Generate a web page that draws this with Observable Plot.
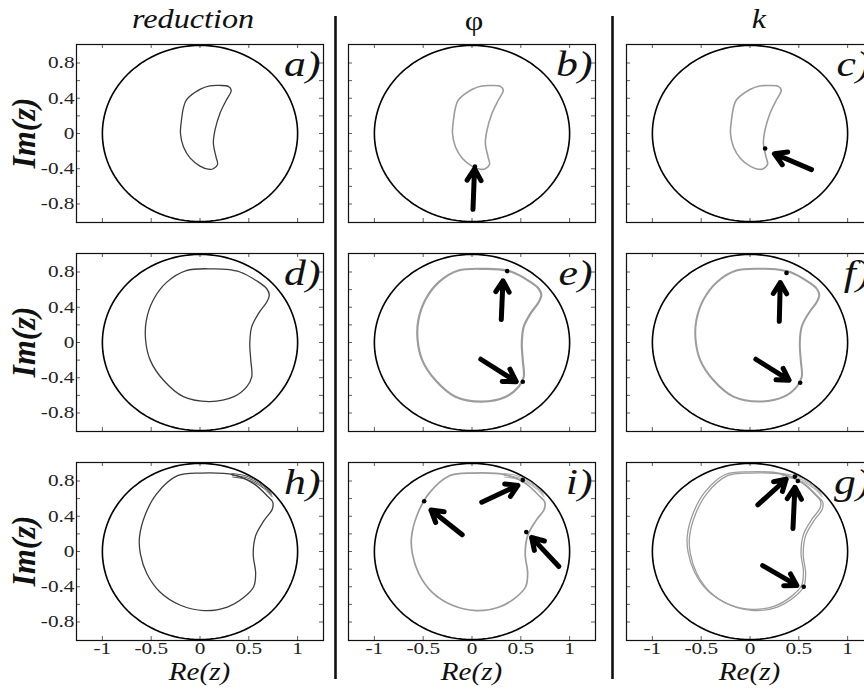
<!DOCTYPE html>
<html><head><meta charset="utf-8">
<script src="https://cdn.jsdelivr.net/npm/d3@7"></script>
<script src="https://cdn.jsdelivr.net/npm/@observablehq/plot@0.6"></script>
<style>
html,body{margin:0;padding:0;background:#fff;overflow:hidden;}
#root{position:relative;width:864px;height:691px;overflow:hidden;background:#fff;}
#root svg{position:absolute;}
</style></head><body><div id="root"></div>
<script>
// ---------- text ----------
const columnTitles = ["reduction", "φ", "k"];
const panelLabels = [["a)", "b)", "c)"], ["d)", "e)", "f)"], ["h)", "i)", "g)"]];
const xAxisTitle = "Re(z)";
const yAxisTitle = "Im(z)";

// ---------- ticks ----------
const xTickValues = [-1, -0.5, 0, 0.5, 1];
const xTickLabels = ["-1", "-0.5", "0", "0.5", "1"];
const yTickValues = [-0.8, -0.6, -0.4, -0.2, 0, 0.2, 0.4, 0.6, 0.8];
const yLabelValues = [-0.8, -0.4, 0, 0.4, 0.8];
const yTickLabels = ["-0.8", "-0.4", "0", "0.4", "0.8"];

// ---------- curves (Re, Im) ----------
const smallRe = [-0.14, 0.0, 0.10, 0.20, 0.29, 0.32, 0.27, 0.205, 0.154, 0.137, 0.164, 0.18, 0.137, 0.085, 0.0, -0.10, -0.17, -0.20, -0.19, -0.17];
const smallIm = [0.38, 0.50, 0.54, 0.545, 0.535, 0.49, 0.38, 0.23, 0.04, -0.11, -0.265, -0.35, -0.40, -0.405, -0.37, -0.28, -0.15, 0.0, 0.15, 0.29];

const midRe = [0.137, -0.14, -0.34, -0.48, -0.55, -0.557, -0.51, -0.376, -0.17, 0.10, 0.347, 0.48, 0.53, 0.52, 0.51, 0.53, 0.60, 0.684, 0.71, 0.684, 0.58, 0.41, 0.27];
const midIm = [0.836, 0.817, 0.685, 0.48, 0.25, 0.026, -0.2, -0.426, -0.615, -0.67, -0.615, -0.50, -0.39, -0.20, -0.01, 0.18, 0.33, 0.46, 0.535, 0.61, 0.70, 0.80, 0.83];

const bigRe = [0.007, -0.23, -0.44, -0.56, -0.62, -0.61, -0.545, -0.41, -0.20, 0.04, 0.28, 0.45, 0.55, 0.57, 0.545, 0.57, 0.655, 0.74, 0.745, 0.69, 0.55, 0.345];
const bigIm = [0.89, 0.86, 0.66, 0.42, 0.16, -0.03, -0.25, -0.46, -0.61, -0.67, -0.63, -0.52, -0.40, -0.25, -0.03, 0.18, 0.35, 0.48, 0.56, 0.63, 0.77, 0.87];

const tailRe = [0.33, 0.45, 0.55, 0.65, 0.735];
const tailIm = [0.865, 0.845, 0.805, 0.735, 0.64];

// ---------- markers & arrows ----------
const marksB = [[0.03, -0.375]];
const marksC = [[0.155, -0.17]];
const marksE = [[0.36, 0.81], [0.52, -0.445]];
const marksF = [[0.374, 0.79], [0.514, -0.456]];
const marksI = [[0.52, 0.81], [-0.49, 0.57], [0.556, 0.22]];
const marksG = [[0.46, 0.85], [0.49, 0.80], [0.55, -0.40]];

const arrowsB = [{x1: 0.01, y1: -0.86, x2: 0.026, y2: -0.40}];
const arrowsC = [{x1: 0.63, y1: -0.41, x2: 0.25, y2: -0.23}];
const arrowsE = [{x1: 0.30, y1: 0.26, x2: 0.317, y2: 0.70}, {x1: 0.09, y1: -0.19, x2: 0.453, y2: -0.445}];
const arrowsF = [{x1: 0.30, y1: 0.24, x2: 0.31, y2: 0.68}, {x1: 0.06, y1: -0.19, x2: 0.40, y2: -0.427}];
const arrowsI = [{x1: 0.10, y1: 0.56, x2: 0.47, y2: 0.75}, {x1: -0.10, y1: 0.19, x2: -0.42, y2: 0.47}, {x1: 0.89, y1: -0.17, x2: 0.61, y2: 0.16}];
const arrowsG = [{x1: 0.08, y1: 0.53, x2: 0.37, y2: 0.82}, {x1: 0.44, y1: 0.26, x2: 0.46, y2: 0.73}, {x1: 0.13, y1: -0.16, x2: 0.48, y2: -0.385}];

// ---------- build ----------
const zip = (re, im) => re.map((r, i) => ({re: r, im: im[i]}));
const small = zip(smallRe, smallIm), mid = zip(midRe, midIm), big = zip(bigRe, bigIm), tail = zip(tailRe, tailIm);
// unit circle |z| = 1
const unitCircle = d3.range(0, 360, 3).map(a => ({re: Math.cos(a * Math.PI / 180), im: Math.sin(a * Math.PI / 180)}));

const colLeft = [76, 348, 626], rowTop = [44, 253, 462];
const FW = 247, FH = 178, ML = 50, MR = 6, MT = 6, MB = 32;
const dark = "#3c3c3c", grey = "#9c9c9c";

const panels = [
  {r: 0, c: 0, curve: small, stroke: dark, sw: 1.3},
  {r: 0, c: 1, curve: small, stroke: grey, sw: 1.6, marks: marksB, arrows: arrowsB},
  {r: 0, c: 2, curve: small, stroke: grey, sw: 1.6, marks: marksC, arrows: arrowsC},
  {r: 1, c: 0, curve: mid, stroke: dark, sw: 1.3},
  {r: 1, c: 1, curve: mid, stroke: grey, sw: 2.2, marks: marksE, arrows: arrowsE},
  {r: 1, c: 2, curve: mid, stroke: grey, sw: 2.0, marks: marksF, arrows: arrowsF},
  {r: 2, c: 0, curve: big, stroke: dark, sw: 1.3, tail: true},
  {r: 2, c: 1, curve: big, stroke: grey, sw: 1.7, tail: true, marks: marksI, arrows: arrowsI},
  {r: 2, c: 2, curve: big, stroke: grey, sw: 1.3, tail: true, dbl: true, marks: marksG, arrows: arrowsG}
];

const root = document.getElementById("root");
const FONT = "'Liberation Serif', 'Times New Roman', serif";

for (const p of panels) {
  const marks = [
    Plot.ruleX(xTickValues, {insetTop: FH - 4, stroke: "#333", strokeWidth: 0.8}),
    Plot.ruleX(xTickValues, {insetBottom: FH - 4, stroke: "#333", strokeWidth: 0.8}),
    Plot.ruleY(yTickValues, {insetLeft: FW - 4, stroke: "#333", strokeWidth: 0.8}),
    Plot.ruleY(yTickValues, {insetRight: FW - 4, stroke: "#333", strokeWidth: 0.8}),
    Plot.frame({stroke: "#111", strokeWidth: 1.2}),
    Plot.line(unitCircle, {x: "re", y: "im", curve: "linear-closed", stroke: "#000", strokeWidth: 1.6})
  ];
  if (p.dbl) {
    marks.push(Plot.line(p.curve, {x: "re", y: "im", curve: "catmull-rom-closed", stroke: grey, strokeWidth: 1.3, dx: -2.2, dy: -1.2}));
  }
  marks.push(Plot.line(p.curve, {x: "re", y: "im", curve: "catmull-rom-closed", stroke: p.stroke, strokeWidth: p.sw}));
  if (p.tail) {
    for (const off of [-1.8, 0, 1.8]) {
      marks.push(Plot.line(tail, {x: "re", y: "im", curve: "catmull-rom", stroke: p.stroke, strokeWidth: 0.9, dy: off, dx: off * 0.3}));
    }
  }
  if (p.marks) marks.push(Plot.dot(p.marks, {x: d => d[0], y: d => d[1], r: 2.3, fill: "#000"}));
  if (p.arrows) marks.push(Plot.arrow(p.arrows, {x1: "x1", y1: "y1", x2: "x2", y2: "y2", stroke: "#000", strokeWidth: 5, headLength: 9, headAngle: 62}));
  marks.push(Plot.text([panelLabels[p.r][p.c]], {text: d => d, frameAnchor: "top-right", dx: -3, dy: 7, lineAnchor: "top", textAnchor: "end", fontSize: 35, fontStyle: "italic", fontFamily: FONT, fill: "#111"}));
  if (p.c === 0) marks.push(Plot.text(yLabelValues, {y: d => d, text: (d, i) => yTickLabels[i], frameAnchor: "left", textAnchor: "end", dx: -2, fontSize: 17, fontFamily: FONT, fill: "#222"}));
  if (p.r === 2) marks.push(Plot.text(xTickValues, {x: d => d, text: (d, i) => xTickLabels[i], frameAnchor: "bottom", lineAnchor: "top", dy: 1, fontSize: 17, fontFamily: FONT, fill: "#222"}));
  const svg = Plot.plot({
    width: ML + FW + MR, height: MT + FH + MB,
    marginLeft: ML, marginRight: MR, marginTop: MT, marginBottom: MB,
    x: {domain: [-1.265, 1.265], axis: null},
    y: {domain: [-1.01, 1.01], axis: null},
    style: {background: "transparent", fontFamily: FONT, fontSize: "17px", overflow: "visible"},
    marks
  });
  svg.style.left = (colLeft[p.c] - ML) + "px";
  svg.style.top = (rowTop[p.r] - MT) + "px";
  svg.querySelectorAll("text").forEach(t => {
    t.style.fontFamily = FONT;
    const tr = t.getAttribute("transform");
    if (tr) t.setAttribute("transform", tr + " scale(1.25,1)");
  });
  root.appendChild(svg);
}

// ---------- overlay: titles, axis titles, separators ----------
const ov = d3.select(root).append("svg").attr("width", 864).attr("height", 691).style("left", "0px").style("top", "0px")
  .style("font-family", FONT);
ov.selectAll("line.sep").data([335.5, 612.5]).join("line").attr("class", "sep")
  .attr("x1", d => d).attr("x2", d => d).attr("y1", 16).attr("y2", 679).attr("stroke", "#111").attr("stroke-width", 2.6);
const titleX = [193, 474, 759];
ov.selectAll("text.ct").data(columnTitles).join("text").attr("class", "ct")
  .attr("transform", (d, i) => `translate(${titleX[i]},${i === 1 ? 30 : 28}) scale(1.15,1)`)
  .attr("text-anchor", "middle").attr("font-size", 28).attr("font-style", (d, i) => i === 1 ? "normal" : "italic")
  .attr("fill", "#111").text(d => d);
ov.selectAll("text.yl").data(rowTop).join("text").attr("class", "yl")
  .attr("transform", d => `translate(35,${d + FH / 2}) rotate(-90) scale(1.1,1.15)`)
  .attr("text-anchor", "middle").attr("font-size", 29).attr("font-style", "italic").attr("font-weight", "bold")
  .attr("fill", "#111").text(yAxisTitle);
ov.selectAll("text.xl").data(colLeft).join("text").attr("class", "xl")
  .attr("transform", d => `translate(${d + FW / 2},680) scale(1.12,1)`)
  .attr("text-anchor", "middle").attr("font-size", 26).attr("font-style", "italic")
  .attr("fill", "#111").text(xAxisTitle);
</script></body></html>
